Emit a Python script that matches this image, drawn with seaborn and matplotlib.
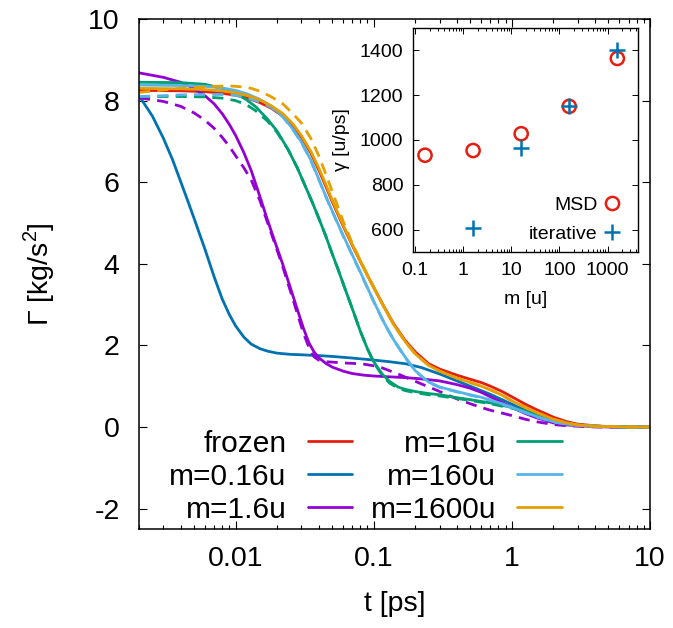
import numpy as np
import pandas as pd
import matplotlib
matplotlib.use("Agg")
import matplotlib.pyplot as plt
import seaborn as sns
from matplotlib.lines import Line2D
from matplotlib.ticker import LogLocator, NullFormatter, FixedLocator, FixedFormatter

# ---------------- data ----------------
t_frozen = [0.002, 0.004, 0.006, 0.008, 0.01, 0.012, 0.015, 0.018, 0.022, 0.026, 0.03, 0.035,
            0.04, 0.045, 0.05, 0.06, 0.07, 0.08, 0.09, 0.1, 0.12, 0.14, 0.17, 0.2, 0.25, 0.3,
            0.4, 0.5, 0.6, 0.7, 0.85, 1, 1.25, 1.5, 2, 2.5, 3, 4, 5, 7, 10]
g_frozen = [8.25, 8.24, 8.22, 8.18, 8.13, 8.07, 7.95, 7.82, 7.62, 7.38, 7.10, 6.72,
            6.30, 5.90, 5.53, 4.93, 4.45, 4.06, 3.72, 3.42, 2.92, 2.52, 2.11, 1.84, 1.55, 1.42,
            1.27, 1.17, 1.09, 1.00, 0.87, 0.74, 0.56, 0.43, 0.24, 0.13, 0.07, 0.03, 0.01, 0.0, 0.0]

t_m016 = [0.002, 0.0025, 0.003, 0.0035, 0.004, 0.0045, 0.005, 0.006, 0.007, 0.008, 0.009,
          0.01, 0.0115, 0.013, 0.015, 0.017, 0.02, 0.025, 0.03, 0.04, 0.05, 0.07, 0.1, 0.13,
          0.17, 0.22, 0.3, 0.4, 0.5, 0.7, 1, 1.3, 1.7, 2.2, 3, 4, 6, 10]
g_m016 = [8.12, 7.62, 7.08, 6.55, 6.02, 5.55, 5.12, 4.36, 3.68, 3.14, 2.76, 2.48, 2.20,
          2.03, 1.92, 1.86, 1.81, 1.78, 1.77, 1.75, 1.73, 1.69, 1.64, 1.60, 1.55, 1.46, 1.30,
          1.13, 1.00, 0.80, 0.56, 0.38, 0.23, 0.12, 0.05, 0.02, 0.0, 0.0]

t_m1p6 = [0.002, 0.003, 0.004, 0.005, 0.006, 0.007, 0.008, 0.009, 0.01, 0.0115, 0.013, 0.015,
          0.017, 0.019, 0.022, 0.025, 0.028, 0.031, 0.034, 0.037, 0.04, 0.045, 0.05, 0.06,
          0.07, 0.085, 0.1, 0.13, 0.17, 0.22, 0.3, 0.4, 0.5, 0.6, 0.7, 0.85, 1, 1.25, 1.5, 2,
          2.5, 3, 4, 5, 10]
g_m1p6 = [8.68, 8.57, 8.45, 8.30, 8.12, 7.92, 7.68, 7.42, 7.15, 6.72, 6.28, 5.65,
          5.08, 4.60, 3.98, 3.40, 2.88, 2.42, 2.06, 1.84, 1.70, 1.56, 1.47, 1.37,
          1.31, 1.27, 1.25, 1.23, 1.21, 1.18, 1.13, 1.04, 0.95, 0.85, 0.74, 0.60, 0.48, 0.33,
          0.23, 0.10, 0.05, 0.03, 0.01, 0.0, 0.0]
t_m1p6_it = [0.002, 0.003, 0.004, 0.005, 0.006, 0.007, 0.008, 0.009, 0.01, 0.0115, 0.013,
             0.015, 0.017, 0.019, 0.022, 0.025, 0.028, 0.031, 0.034, 0.037, 0.04, 0.045, 0.05,
             0.06, 0.07, 0.085, 0.1, 0.115, 0.13, 0.15, 0.17, 0.2, 0.22, 0.26, 0.3, 0.35, 0.4,
             0.5, 0.6, 0.7, 0.85, 1, 1.25, 1.5, 2, 2.5, 3, 4, 10]
g_m1p6_it = [8.07, 7.98, 7.86, 7.70, 7.52, 7.32, 7.10, 6.88, 6.65, 6.35, 6.05,
             5.55, 5.02, 4.55, 3.92, 3.32, 2.78, 2.30, 1.95, 1.72, 1.64, 1.60, 1.59,
             1.57, 1.56, 1.54, 1.50, 1.45, 1.38, 1.30, 1.22, 1.12, 1.06, 0.96, 0.87, 0.77, 0.69,
             0.57, 0.48, 0.41, 0.34, 0.28, 0.19, 0.13, 0.06, 0.03, 0.02, 0.0, 0.0]

t_m16 = [0.002, 0.004, 0.006, 0.008, 0.01, 0.012, 0.014, 0.017, 0.02, 0.024, 0.028, 0.032,
         0.036, 0.04, 0.045, 0.05, 0.055, 0.06, 0.07, 0.08, 0.09, 0.1, 0.115, 0.13, 0.15, 0.17,
         0.2, 0.25, 0.3, 0.4, 0.5, 0.7, 1, 1.25, 1.5, 2, 2.5, 3, 4, 5, 7, 10]
g_m16 = [8.45, 8.44, 8.40, 8.30, 8.18, 8.02, 7.85, 7.55, 7.25, 6.80, 6.35, 5.90,
         5.50, 5.12, 4.68, 4.25, 3.88, 3.52, 2.90, 2.35, 1.92, 1.60, 1.30, 1.12, 0.98, 0.92,
         0.87, 0.82, 0.79, 0.72, 0.67, 0.59, 0.48, 0.39, 0.31, 0.17, 0.09, 0.05, 0.02, 0.01,
         0.0, 0.0]
t_m16_it = [0.002, 0.004, 0.006, 0.008, 0.01, 0.012, 0.014, 0.017, 0.02, 0.024, 0.028, 0.032,
            0.036, 0.04, 0.045, 0.05, 0.055, 0.06, 0.07, 0.08, 0.09, 0.1, 0.115, 0.13, 0.15,
            0.17, 0.2, 0.25, 0.3, 0.4, 0.5, 0.7, 1, 1.25, 1.5, 2, 2.5, 3, 4, 5, 7, 10]
g_m16_it = [8.10, 8.10, 8.09, 8.06, 8.00, 7.90, 7.75, 7.50, 7.22, 6.80, 6.35, 5.90,
            5.50, 5.12, 4.68, 4.25, 3.88, 3.52, 2.90, 2.35, 1.92, 1.58, 1.27, 1.08, 0.95,
            0.89, 0.84, 0.79, 0.76, 0.70, 0.65, 0.57, 0.46, 0.38, 0.30, 0.16, 0.09, 0.05,
            0.02, 0.01, 0.0, 0.0]

t_m160 = [0.002, 0.004, 0.006, 0.008, 0.01, 0.012, 0.015, 0.018, 0.022, 0.026, 0.03, 0.035,
          0.04, 0.045, 0.05, 0.06, 0.07, 0.08, 0.09, 0.1, 0.12, 0.14, 0.17, 0.2, 0.25, 0.3,
          0.4, 0.5, 0.6, 0.7, 0.85, 1, 1.25, 1.5, 2, 2.5, 3, 4, 5, 7, 10]
g_m160 = [8.38, 8.37, 8.35, 8.31, 8.25, 8.17, 8.03, 7.87, 7.61, 7.30, 6.98, 6.55,
          6.08, 5.66, 5.30, 4.70, 4.22, 3.80, 3.42, 3.08, 2.53, 2.13, 1.70, 1.38, 1.10, 0.98,
          0.87, 0.79, 0.73, 0.66, 0.57, 0.48, 0.36, 0.26, 0.13, 0.07, 0.04, 0.02, 0.01, 0.0,
          0.0]
t_m160_it = [0.002, 0.003, 0.004, 0.006, 0.008, 0.01, 0.012, 0.015, 0.018, 0.022, 0.026, 0.03,
             0.035, 0.04, 0.045, 0.05, 0.06, 0.07, 0.08, 0.09, 0.1, 0.12, 0.14, 0.17, 0.2,
             0.25, 0.3, 0.4, 0.5, 0.6, 0.7, 0.85, 1, 1.25, 1.5, 2, 2.5, 3, 4, 5, 7, 10]
g_m160_it = [8.10, 8.12, 8.14, 8.15, 8.15, 8.13, 8.07, 7.97, 7.84, 7.60, 7.29, 6.97,
             6.54, 6.07, 5.65, 5.29, 4.69, 4.21, 3.79, 3.41, 3.07, 2.52, 2.12, 1.69, 1.37,
             1.09, 0.97, 0.86, 0.78, 0.72, 0.65, 0.56, 0.47, 0.35, 0.25, 0.12, 0.07, 0.04,
             0.02, 0.01, 0.0, 0.0]

t_m1600 = [0.002, 0.004, 0.006, 0.008, 0.01, 0.012, 0.015, 0.018, 0.022, 0.026, 0.03, 0.035,
           0.04, 0.045, 0.05, 0.06, 0.07, 0.08, 0.09, 0.1, 0.12, 0.14, 0.17, 0.2, 0.25, 0.3,
           0.4, 0.5, 0.6, 0.7, 0.85, 1, 1.25, 1.5, 2, 2.5, 3, 4, 5, 7, 10]
g_m1600 = [8.30, 8.29, 8.27, 8.24, 8.19, 8.13, 8.02, 7.88, 7.68, 7.43, 7.14, 6.76,
           6.35, 5.95, 5.57, 4.96, 4.47, 4.07, 3.72, 3.42, 2.91, 2.50, 2.08, 1.79, 1.51, 1.37,
           1.20, 1.09, 1.00, 0.91, 0.78, 0.64, 0.48, 0.36, 0.19, 0.10, 0.05, 0.02, 0.01, 0.0,
           0.0]
t_m1600_it = [0.002, 0.003, 0.004, 0.005, 0.007, 0.009, 0.011, 0.013, 0.015, 0.018, 0.022,
              0.026, 0.03, 0.035, 0.04, 0.045, 0.05, 0.06, 0.07, 0.08, 0.09, 0.1, 0.12, 0.14,
              0.17, 0.2, 0.25, 0.3, 0.4, 0.5, 0.6, 0.7, 0.85, 1, 1.25, 1.5, 2, 2.5, 3, 4, 5,
              7, 10]
g_m1600_it = [8.20, 8.26, 8.30, 8.32, 8.35, 8.36, 8.34, 8.30, 8.23, 8.10, 7.92,
              7.68, 7.45, 7.08, 6.65, 6.20, 5.78, 5.05, 4.50, 4.08, 3.73, 3.43, 2.91, 2.50,
              2.08, 1.79, 1.51, 1.37, 1.20, 1.09, 1.00, 0.91, 0.78, 0.64, 0.48, 0.36, 0.19,
              0.10, 0.05, 0.02, 0.01, 0.0, 0.0]

labels = ["frozen", "m=0.16u", "m=1.6u", "m=16u", "m=160u", "m=1600u"]
colors = ["#e51e10", "#0072b2", "#9400d3", "#009e73", "#56b4e9", "#e69f00"]

# inset data
mass = [0.16, 1.6, 16, 160, 1600]
gamma_msd = [932, 953, 1028, 1150, 1364]
mass_it = [1.6, 16, 160, 1600]
gamma_it = [608, 963, 1150, 1403]

xticks_main = [0.01, 0.1, 1, 10]
xticklabels_main = ["0.01", "0.1", "1", "10"]
yticks_main = [-2, 0, 2, 4, 6, 8, 10]
xticks_in = [0.1, 1, 10, 100, 1000]
xticklabels_in = ["0.1", "1", "10", "100", "1000"]
yticks_in = [600, 800, 1000, 1200, 1400]

# ---------------- style ----------------
sns.set_style("ticks", {"axes.edgecolor": "black", "text.color": "black",
                        "axes.labelcolor": "black", "xtick.color": "black",
                        "ytick.color": "black"})
plt.rcParams["font.family"] = ["Liberation Sans", "DejaVu Sans"]
plt.rcParams["mathtext.fontset"] = "custom"
plt.rcParams["mathtext.rm"] = "Liberation Sans"
plt.rcParams["axes.unicode_minus"] = False

W, H = 673, 628
fig = plt.figure(figsize=(W / 100, H / 100), dpi=100)
ax = fig.add_axes([139 / W, 1 - 529 / H, (650 - 139) / W, (529 - 19) / H])

LW = 2.0
DASH = (0, (4, 2.6))
solid = [(t_frozen, g_frozen), (t_m016, g_m016), (t_m1p6, g_m1p6), (t_m16, g_m16),
         (t_m160, g_m160), (t_m1600, g_m1600)]
dashed = [None, None, (t_m1p6_it, g_m1p6_it), (t_m16_it, g_m16_it),
          (t_m160_it, g_m160_it), (t_m1600_it, g_m1600_it)]

for col, s, d in zip(colors, solid, dashed):
    sns.lineplot(x=s[0], y=s[1], ax=ax, color=col, lw=LW, legend=False, estimator=None,
                 sort=False)
    if d is not None:
        sns.lineplot(x=d[0], y=d[1], ax=ax, color=col, lw=LW, legend=False,
                     estimator=None, sort=False, linestyle=DASH)

ax.set_xscale("log")
ax.set_xlim(0.002, 10)
ax.set_ylim(-2.5, 10)
ax.xaxis.set_major_locator(FixedLocator(xticks_main))
ax.xaxis.set_major_formatter(FixedFormatter(xticklabels_main))
ax.xaxis.set_minor_locator(LogLocator(base=10, subs=np.arange(2, 10), numticks=20))
ax.xaxis.set_minor_formatter(NullFormatter())
ax.set_yticks(yticks_main)
ax.set_yticklabels([str(v) for v in yticks_main])
ax.tick_params(which="both", direction="in", top=True, right=True, width=0.8,
               labelsize=20.5, colors="black")
ax.tick_params(which="major", length=6)
ax.tick_params(which="minor", length=3)
ax.tick_params(axis="x", which="major", pad=12)
ax.tick_params(axis="y", which="major", pad=14)
for s in ax.spines.values():
    s.set_linewidth(1.1)
    s.set_color("black")
ax.set_xlabel("t [ps]", fontsize=20.5, labelpad=14)
ax.set_ylabel("Γ [kg/s$^2$]", fontsize=20.5, labelpad=22)

handles = [Line2D([], [], color=c, lw=LW) for c in colors]
ax.legend(handles, labels, ncol=2, markerfirst=False, frameon=False,
          fontsize=21.5, loc="lower right", bbox_to_anchor=(0.828, 0.01),
          borderpad=0, borderaxespad=0, handlelength=1.5, handletextpad=0.7,
          columnspacing=0.62, labelspacing=0.17)

# ---------------- inset ----------------
axin = fig.add_axes([413 / W, 1 - 252 / H, 225 / W, 224 / H])
sns.scatterplot(x=mass, y=gamma_msd, ax=axin, marker="o", s=90, color="#e51e10",
                linewidth=1.8, legend=False)
axin.collections[0].set_facecolor("none")
axin.collections[0].set_edgecolor("#e51e10")
sns.scatterplot(x=mass_it, y=gamma_it, ax=axin, marker="+", s=120, color="#0072b2",
                linewidth=1.8, legend=False)
axin.set_xscale("log")
axin.set_xlim(0.09, 4300)
axin.set_ylim(500, 1500)
axin.xaxis.set_major_locator(FixedLocator(xticks_in))
axin.xaxis.set_major_formatter(FixedFormatter(xticklabels_in))
axin.xaxis.set_minor_locator(LogLocator(base=10, subs=np.arange(2, 10), numticks=20))
axin.xaxis.set_minor_formatter(NullFormatter())
axin.set_yticks(yticks_in)
axin.set_yticklabels([str(v) for v in yticks_in])
axin.tick_params(which="both", direction="in", top=True, right=True, width=0.7,
                 labelsize=14, colors="black")
axin.tick_params(which="major", length=4.5)
axin.tick_params(which="minor", length=2.5)
axin.tick_params(axis="both", which="major", pad=7)
for s in axin.spines.values():
    s.set_linewidth(1.0)
    s.set_color("black")
axin.set_xlabel("m [u]", fontsize=14, labelpad=9)
axin.set_ylabel("γ [u/ps]", fontsize=14, labelpad=7)

h_in = [Line2D([], [], marker="o", ls="none", mfc="none", mec="#e51e10", ms=9.5, mew=1.8),
        Line2D([], [], marker="+", ls="none", color="#0072b2", ms=11, mew=1.8)]
axin.legend(h_in, ["MSD", "iterative"], markerfirst=False, frameon=False, fontsize=14,
            loc="lower right", bbox_to_anchor=(0.925, 0.04), borderaxespad=0, borderpad=0,
            handlelength=0.9, handletextpad=0.3, labelspacing=0.6)

fig.savefig("out.png", dpi=100)
